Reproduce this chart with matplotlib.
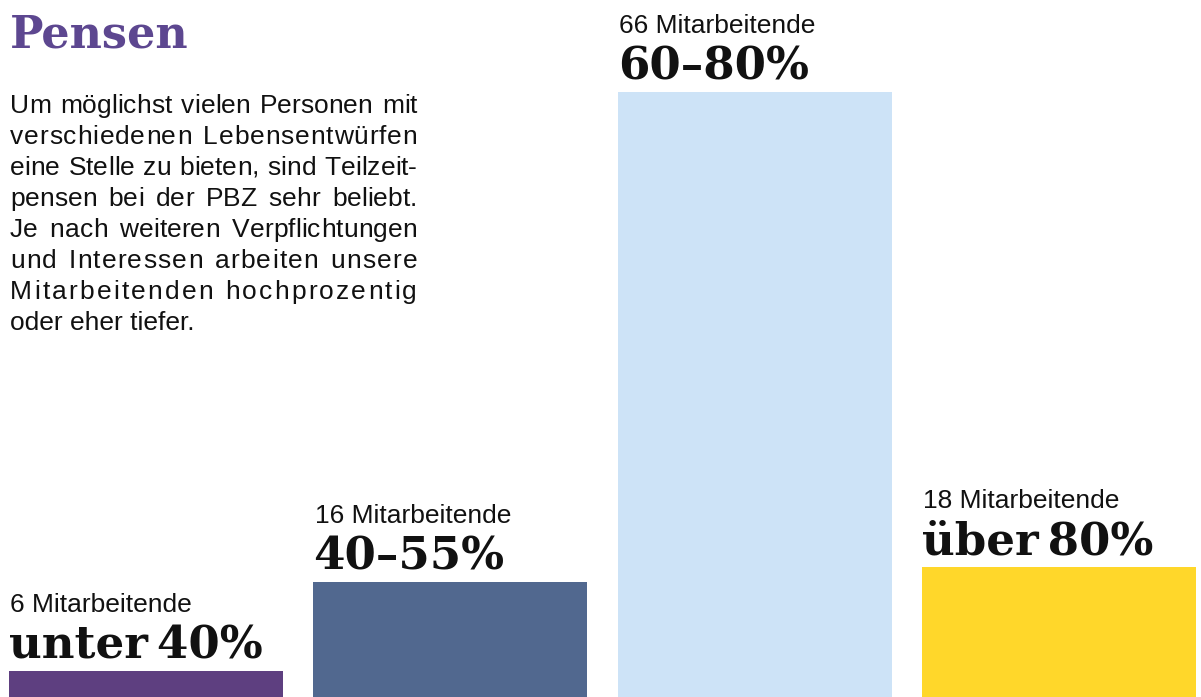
import matplotlib
matplotlib.use("Agg")
import matplotlib.pyplot as plt

# data
ranges = ['unter 40%', '40–55%', '60–80%', 'über 80%']
counts = [6, 16, 66, 18]
# bar heights as drawn in the picture (not proportional to counts)
bar_heights = [26, 115, 605, 130]
colors = ['#5e3f80', '#51688f', '#cde3f7', '#ffd72a']

title = 'Pensen'
body_lines = [
    'Um möglichst vielen Personen mit',
    'verschiedenen Lebensentwürfen',
    'eine Stelle zu bieten, sind Teilzeit-',
    'pensen bei der PBZ sehr beliebt.',
    'Je nach weiteren Verpflichtungen',
    'und Interessen arbeiten unsere',
    'Mitarbeitenden hochprozentig',
    'oder eher tiefer.',
]

SANS = 'Liberation Sans'
SERIF = 'DejaVu Serif'
BODY_SIZE = 19

W, H = 1201, 697
fig = plt.figure(figsize=(W / 100, H / 100), dpi=100)
ax = fig.add_axes([0, 0, 1, 1])
ax.set_xlim(-146 / 304.33, (W - 146) / 304.33)
ax.set_ylim(0, H)
ax.axis('off')

x = range(len(ranges))
ax.bar(x, bar_heights, width=0.9, color=colors, linewidth=0)

for i, (lab, n, h) in enumerate(zip(ranges, counts, bar_heights)):
    left = i - 0.45
    ax.annotate(f'{n} Mitarbeitende', xy=(left, h), xytext=(1, 42.5),
                textcoords='offset points', ha='left', va='baseline',
                fontsize=BODY_SIZE, family=SANS, color='#111111')
    ax.annotate(lab.replace(' ', '\u2009'), xy=(left, h), xytext=(0, 9),
                textcoords='offset points', ha='left', va='baseline',
                fontsize=32.5, family=[SERIF, 'DejaVu Sans'], fontweight='bold',
                color='#111111')

# title
fig.text(10 / W, 1 - 47 / H, title, fontsize=32, family=SERIF,
         fontweight='bold', color='#5d4790', ha='left', va='baseline')

# justified body text (word gaps first, then a bit of letter spacing)
renderer = fig.canvas.get_renderer()


def txt(s, y):
    return fig.text(0, y, s, fontsize=BODY_SIZE, family=SANS, color='#111111',
                    ha='left', va='baseline')


def width(s):
    t = txt(s, 0)
    w = t.get_window_extent(renderer).width
    t.remove()
    return w


x0, x1 = 10, 417
base0 = 113
pitch = 31
space_w = width('a a') - width('aa')

for k, line in enumerate(body_lines):
    y = 1 - (base0 + k * pitch) / H
    if k == len(body_lines) - 1:
        t = txt(line, y)
        t.set_x(x0 / W)
        continue
    words = line.split(' ')
    ngaps = len(words) - 1
    char_w = [[width(ch) for ch in w] for w in words]
    chars_total = sum(sum(cw) for cw in char_w)
    nletter = sum(len(w) - 1 for w in words)
    extra = x1 - x0 - chars_total - ngaps * space_w
    gap_extra = min(extra / ngaps, 0.6 * space_w)
    letter_extra = (extra - gap_extra * ngaps) / max(1, nletter)
    xp = x0
    for w, cw in zip(words, char_w):
        for ci, (ch, wd) in enumerate(zip(w, cw)):
            t = txt(ch, y)
            t.set_x(xp / W)
            xp += wd
            if ci < len(w) - 1:
                xp += letter_extra
        xp += space_w + gap_extra

fig.savefig('out.png', dpi=100)
